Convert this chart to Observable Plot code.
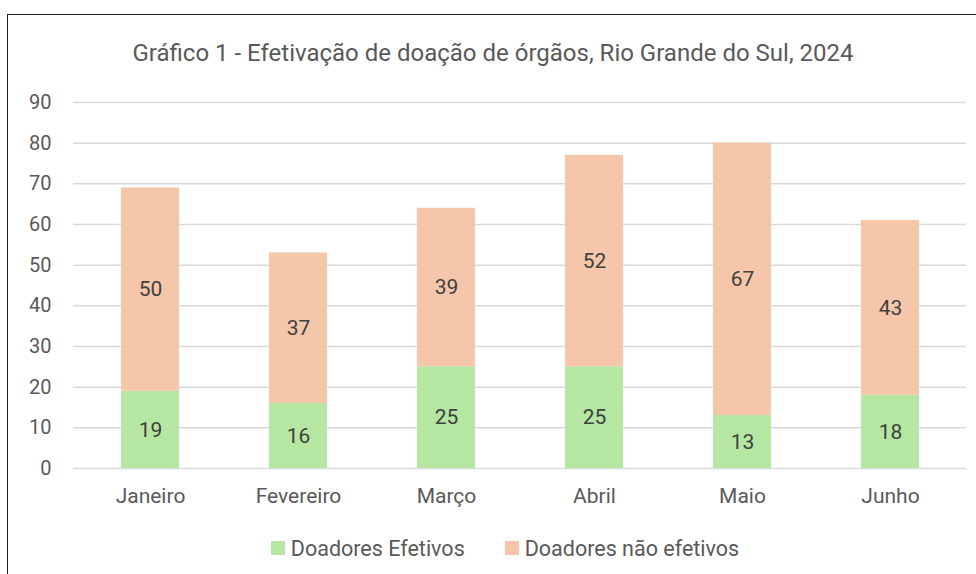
<!DOCTYPE html>
<html>
<head>
<meta charset="utf-8">
<script src="https://cdn.jsdelivr.net/npm/d3@7"></script>
<script src="https://cdn.jsdelivr.net/npm/@observablehq/plot@0.6"></script>
<style>
  html, body { margin: 0; padding: 0; background: #fff; }
  body { width: 976px; height: 574px; overflow: hidden; position: relative; font-family: Roboto, "Noto Sans", sans-serif; }
  #frameTop { position: absolute; left: 7px; top: 14px; right: 0; height: 0; border-top: 1.5px solid #222; }
  #frameLeft { position: absolute; left: 7px; top: 14px; bottom: 0; width: 0; border-left: 1.5px solid #222; }
  #title { height: 80px; box-sizing: border-box; padding-top: 38px; text-align: center; font-size: 24px; color: #595959; line-height: 30px; padding-left: 10px; white-space: nowrap; }
  #chart svg { display: block; }
  #legend { height: 74px; display: flex; justify-content: center; align-items: center; gap: 40px; padding-top: 22px; box-sizing: border-box; font-size: 21.5px; color: #595959; padding-left: 34px; }
  .item { display: flex; align-items: center; gap: 6px; }
  .sw { width: 14px; height: 14px; display: inline-block; }
</style>
</head>
<body>
<div id="frameTop"></div>
<div id="frameLeft"></div>
<div id="title">Gráfico 1 - Efetivação de doação de órgãos, Rio Grande do Sul, 2024</div>
<div id="chart"></div>
<div id="legend"></div>
<script>
const months = ["Janeiro", "Fevereiro", "Março", "Abril", "Maio", "Junho"];
const efetivos = [19, 16, 25, 25, 13, 18];
const naoEfetivos = [50, 37, 39, 52, 67, 43];
const seriesNames = ["Doadores Efetivos", "Doadores não efetivos"];
const seriesColors = ["#b5e6a2", "#f6c6ab"];
const yTicks = [0, 10, 20, 30, 40, 50, 60, 70, 80, 90];

const data = [];
months.forEach((m, i) => {
  data.push({month: m, series: seriesNames[0], value: efetivos[i]});
  data.push({month: m, series: seriesNames[1], value: naoEfetivos[i]});
});

const chart = Plot.plot({
  width: 976,
  height: 420,
  marginTop: 22,
  marginBottom: 32,
  marginLeft: 73,
  marginRight: 10,
  style: {fontFamily: "Roboto, 'Noto Sans', sans-serif", fontSize: "20px", color: "#595959", background: "#fff", overflow: "visible"},
  x: {domain: months, paddingInner: 0.61, paddingOuter: 0.305, label: null, tickSize: 0, tickPadding: 20},
  y: {domain: [0, 90], ticks: yTicks, label: null, tickSize: 0, tickPadding: 22},
  color: {domain: seriesNames, range: seriesColors},
  marks: [
    Plot.gridY(yTicks, {stroke: "#d9d9d9", strokeOpacity: 1, strokeWidth: 1.5}),
    Plot.barY(data, {x: "month", y: "value", fill: "series", z: "series"}),
    Plot.text(data, Plot.stackY({x: "month", y: "value", z: "series", text: d => String(d.value), fill: "#404040", fontSize: 21})),
    Plot.axisX({tickSize: 0, tickPadding: 20, fontSize: 21, fill: "#595959"}),
    Plot.axisY(yTicks, {tickSize: 0, tickPadding: 22, fontSize: 20, fill: "#595959"})
  ]
});
document.getElementById("chart").appendChild(chart);

const legend = document.getElementById("legend");
seriesNames.forEach((n, i) => {
  const it = document.createElement("div");
  it.className = "item";
  const sw = document.createElement("span");
  sw.className = "sw";
  sw.style.background = seriesColors[i];
  const t = document.createElement("span");
  t.textContent = n;
  it.appendChild(sw);
  it.appendChild(t);
  legend.appendChild(it);
});
</script>
</body>
</html>
